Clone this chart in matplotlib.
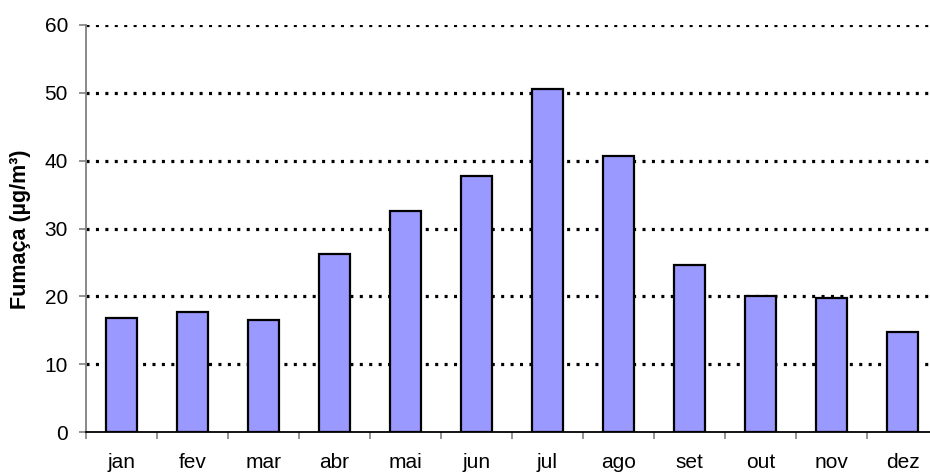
import matplotlib
matplotlib.use("Agg")
import matplotlib.pyplot as plt
import numpy as np

months = ["jan", "fev", "mar", "abr", "mai", "jun", "jul", "ago", "set", "out", "nov", "dez"]
fumaca = [16.8, 17.7, 16.5, 26.2, 32.6, 37.7, 50.6, 40.6, 24.7, 20.1, 19.7, 14.7]
yticks = [0, 10, 20, 30, 40, 50, 60]
ylabel = "Fumaça (µg/m³)"

plt.rcParams['font.family'] = ['Liberation Sans', 'DejaVu Sans']

fig = plt.figure(figsize=(9.30, 4.72), dpi=100)
ax = fig.add_axes([86/930, 39.7/472, 852/930, 407.6/472])

x = np.arange(len(months))
ax.bar(x, fumaca, width=0.43, color="#9999FF", edgecolor="black", linewidth=1.6, zorder=3)

ax.set_xlim(-0.5, len(months) - 0.5)
ax.set_ylim(0, 60)
ax.set_yticks(yticks)
ax.set_yticklabels([str(v) for v in yticks], fontsize=15)
ax.set_xticks(x)
ax.set_xticklabels(months, fontsize=15)
ax.set_xticks(np.arange(-0.5, len(months), 1.0), minor=True)

ax.tick_params(axis='x', which='major', length=0, pad=15)
ax.tick_params(axis='x', which='minor', length=5, width=1.2, color='#808080', direction='out')
ax.tick_params(axis='y', which='major', length=5, width=1.2, color='#808080', direction='out', pad=8)

for s in ['top', 'right']:
    ax.spines[s].set_visible(False)
for s in ['left', 'bottom']:
    ax.spines[s].set_color('#808080')
    ax.spines[s].set_linewidth(1.3)
ax.spines['bottom'].set_color('#000000')
ax.spines['bottom'].set_zorder(4)

for v in yticks[1:]:
    ax.axhline(v, color='black', linewidth=2.3, linestyle=(0, (0.95, 2.0)), zorder=1)

ax.set_ylabel(ylabel, fontsize=15.5, fontweight='bold')
ax.yaxis.set_label_coords(-0.064, 0.497)

fig.savefig("out.png", dpi=100)
